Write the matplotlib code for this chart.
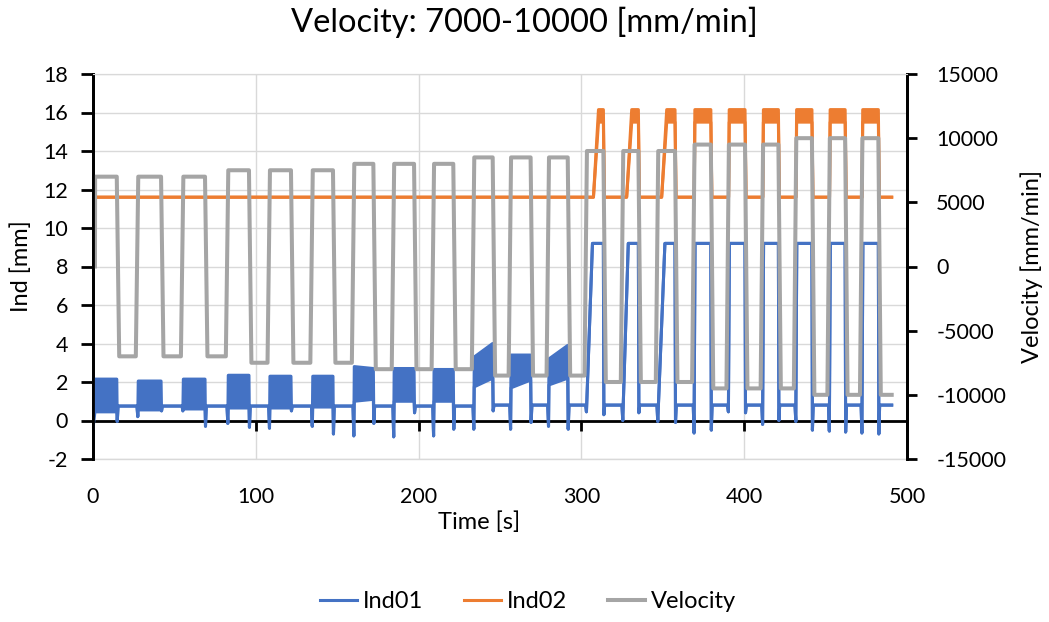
import numpy as np
import matplotlib.pyplot as plt

plt.rcParams['font.family'] = ['Lato', 'DejaVu Sans']
plt.rcParams['axes.unicode_minus'] = False

# tiempos de cada ciclo [s]: inicio y fin de la meseta alta de velocidad
t_subida = [1.2, 27.8, 55.5, 83.1, 108.7, 135.0, 160.5, 185.0, 209.5, 234.2, 256.8, 280.1,
            303.4, 325.7, 347.2, 369.5, 390.6, 411.6, 432.0, 452.6, 472.6]
t_bajada = [14.6, 41.8, 68.8, 95.8, 121.6, 147.4, 172.2, 197.2, 221.3, 245.5, 268.8, 291.6,
            313.5, 335.0, 357.5, 379.5, 400.5, 421.0, 441.6, 462.0, 482.4]
velocidad = [7000, 7000, 7000, 7500, 7500, 7500, 8000, 8000, 8000, 8500, 8500, 8500,
             9000, 9000, 9000, 9500, 9500, 9500, 10000, 10000, 10000]
t_fin = 490.6

# Ind01: reposo, picos negativos en cada cambio
ind01_reposo = [0.75, 0.75, 0.75, 0.75, 0.75, 0.75, 0.75, 0.75, 0.75, 0.8, 0.8, 0.8,
                0.8, 0.8, 0.8, 0.8, 0.8, 0.8, 0.8, 0.8, 0.8]
ind01_pico_sub = [-0.4, 0.2, 0.5, -0.15, -0.4, -0.3, -0.8, -0.85, -0.8, -0.45, -0.45, -0.3,
                  0.45, 0.0, -0.05, -0.65, 0.45, -0.2, -0.05, -0.55, -0.65]
ind01_pico_baj = [-0.05, 0.5, -0.3, -0.35, 0.5, -0.7, -0.15, 0.4, -0.45, 0.5, -0.1, -0.45,
                  0.3, 0.4, -0.1, -0.5, 0.4, 0.0, -0.5, -0.6, -0.7]
# Ind01 ciclos 1-12: banda de oscilacion (inicio / fin de la meseta)
banda_inf_ini = [0.45, 0.55, 0.6, 0.65, 0.65, 0.7, 1.0, 1.0, 1.0, 1.75, 1.7, 1.85]
banda_inf_fin = [0.45, 0.55, 0.6, 0.65, 0.65, 0.7, 1.1, 1.0, 1.0, 2.2, 2.1, 2.2]
banda_sup_ini = [2.15, 2.05, 2.15, 2.35, 2.3, 2.3, 2.8, 2.7, 2.65, 3.3, 3.4, 3.2]
banda_sup_fin = [2.15, 2.05, 2.15, 2.35, 2.3, 2.3, 2.7, 2.7, 2.65, 4.0, 3.4, 3.9]
# Ind01 ciclos 13-21: meseta en 9.2
ind01_tope = 9.2
ind01_t_tope = [306.8, 328.8, 351.3, 369.8, 390.9, 411.9, 432.3, 452.9, 472.9]

# Ind02
ind02_reposo = 11.6
ind02_tope_inf = 15.5
ind02_tope_sup = 16.15
ind02_t_inicio = [307.4, 327.8, 349.3, 369.3, 390.4, 411.4, 431.8, 452.4, 472.4]
ind02_t_tope = [310.5, 330.9, 352.4, 369.7, 390.8, 411.8, 432.2, 452.8, 472.8]

AZUL = '#4472C4'
NARANJA = '#ED7D31'
GRIS = '#A5A5A5'
REJILLA = '#D9D9D9'

rampa = 1.5
n_banda = len(banda_inf_ini)

# serie de velocidad
tv = [t_subida[0], t_subida[0] + 0.1]
vv = [0, velocidad[0]]
for i in range(len(t_subida)):
    if i > 0:
        tv += [t_subida[i] - rampa, t_subida[i]]
        vv += [-velocidad[i - 1], velocidad[i]]
    tv += [t_bajada[i], t_bajada[i] + rampa]
    vv += [velocidad[i], -velocidad[i]]
tv.append(t_fin)
vv.append(-velocidad[-1])

# serie Ind01 (envolvente inferior y superior)
t1, lo1, hi1 = [0.0], [ind01_pico_sub[0]], [ind01_pico_sub[0]]
for i in range(len(t_subida)):
    if i > 0:
        t1 += [t_subida[i] - 0.8, t_subida[i] - 0.3]
        lo1 += [ind01_reposo[i - 1], ind01_pico_sub[i]]
        hi1 += [ind01_reposo[i - 1], ind01_pico_sub[i]]
    if i < n_banda:
        t1 += [t_subida[i], t_bajada[i]]
        lo1 += [banda_inf_ini[i], banda_inf_fin[i]]
        hi1 += [banda_sup_ini[i], banda_sup_fin[i]]
    else:
        j = i - n_banda
        t1 += [ind01_t_tope[j], t_bajada[i]]
        lo1 += [ind01_tope, ind01_tope]
        hi1 += [ind01_tope, ind01_tope]
    t1 += [t_bajada[i] + 0.3, t_bajada[i] + 0.8]
    lo1 += [ind01_pico_baj[i], ind01_reposo[i]]
    hi1 += [ind01_pico_baj[i], ind01_reposo[i]]
t1.append(t_fin)
lo1.append(ind01_reposo[-1])
hi1.append(ind01_reposo[-1])

# serie Ind02
t2, lo2, hi2 = [0.0], [ind02_reposo], [ind02_reposo]
for j in range(len(ind02_t_inicio)):
    i = j + n_banda
    t2 += [ind02_t_inicio[j], ind02_t_tope[j], t_bajada[i], t_bajada[i] + 0.6]
    lo2 += [ind02_reposo, ind02_tope_inf, ind02_tope_inf, ind02_reposo]
    hi2 += [ind02_reposo, ind02_tope_sup, ind02_tope_sup, ind02_reposo]
t2.append(t_fin)
lo2.append(ind02_reposo)
hi2.append(ind02_reposo)

fig = plt.figure(figsize=(10.49, 6.22), dpi=100)
ax = fig.add_axes([93 / 1049, 1 - 459 / 622, 814 / 1049, 385 / 622])
ax2 = ax.twinx()

ax.fill_between(t1, lo1, hi1, color=AZUL, lw=0, zorder=3)
ax.plot(t1, lo1, color=AZUL, lw=2.2, label='Ind01', zorder=3)
ax.plot(t1, hi1, color=AZUL, lw=2.2, zorder=3)
ax.fill_between(t2, lo2, hi2, color=NARANJA, lw=0, zorder=3)
ax.plot(t2, lo2, color=NARANJA, lw=2.2, label='Ind02', zorder=3)
ax.plot(t2, hi2, color=NARANJA, lw=2.2, zorder=3)
ax2.plot(tv, vv, color=GRIS, lw=2.9, label='Velocity')

ax.set_xlim(0, 500)
ax.set_ylim(-2, 18)
ax2.set_ylim(-15000, 15000)
ax.set_xticks(np.arange(0, 501, 100))
ax.set_yticks(np.arange(-2, 19, 2))
ax2.set_yticks(np.arange(-15000, 15001, 5000))

ax.grid(True, color=REJILLA, lw=1.0, zorder=0)
ax.set_axisbelow(True)

for a in (ax, ax2):
    a.spines['top'].set_color(REJILLA)
    a.spines['bottom'].set_visible(False)
    a.spines['left'].set_color('black')
    a.spines['right'].set_color('black')
    a.spines['left'].set_linewidth(2)
    a.spines['right'].set_linewidth(2)

# eje horizontal negro en Ind = 0, etiquetas abajo
ax.spines['bottom'].set_visible(True)
ax.spines['bottom'].set_position(('data', 0))
ax.spines['bottom'].set_color('black')
ax.spines['bottom'].set_linewidth(2)
ax.spines['bottom'].set_zorder(2)
ax.tick_params(axis='x', direction='out', length=7, width=2, labelbottom=False)

abajo = ax.secondary_xaxis('bottom')
abajo.set_xticks(np.arange(0, 501, 100))
abajo.tick_params(length=0, pad=20, labelsize=15.5)
abajo.spines['bottom'].set_color(REJILLA)
abajo.spines['bottom'].set_linewidth(1.0)

fig.text(479 / 1049, 1 - 522 / 622, 'Time [s]', fontsize=17, ha='center', va='center')

ax.tick_params(axis='y', direction='out', length=9, width=2, pad=9, labelsize=15.5)
ax2.tick_params(axis='y', direction='out', length=7, width=2, pad=14, labelsize=15.5)

ax.set_ylabel('Ind [mm]', fontsize=17, labelpad=8)
ax2.set_ylabel('Velocity [mm/min]', fontsize=17, labelpad=10)

fig.suptitle('Velocity: 7000-10000 [mm/min]', fontsize=23.5, y=0.99)

h1, l1 = ax.get_legend_handles_labels()
h2, l2 = ax2.get_legend_handles_labels()
fig.legend(h1 + h2, l1 + l2, loc='center', bbox_to_anchor=(528 / 1049, 1 - 602 / 622), ncol=3,
           frameon=False, fontsize=17, handlelength=1.6, handletextpad=0.25, columnspacing=1.7)

plt.savefig('out.png', dpi=100)
